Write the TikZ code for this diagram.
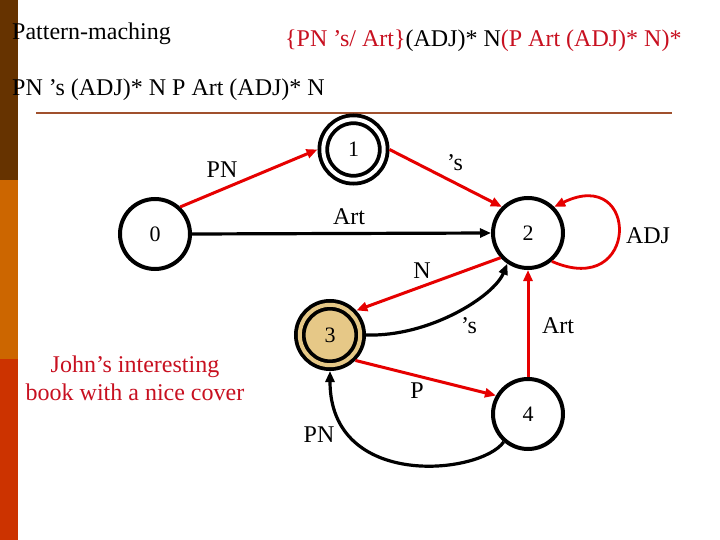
\documentclass[tikz,border=0pt]{standalone}
\usepackage{fontspec}
\setmainfont{Liberation Serif}
\usetikzlibrary{arrows.meta}
\definecolor{barA}{RGB}{102,51,0}
\definecolor{barB}{RGB}{204,102,0}
\definecolor{barC}{RGB}{204,51,0}
\definecolor{rulec}{RGB}{160,80,45}
\definecolor{tred}{RGB}{200,16,32}
\definecolor{ared}{RGB}{230,0,0}
\definecolor{tanf}{RGB}{230,200,135}
\begin{document}
\begin{tikzpicture}[x=1pt,y=-1pt,
  state/.style={circle,draw,line width=4pt,minimum size=70pt,inner sep=0pt,outer sep=2pt,font=\fontsize{22}{24}\selectfont},
  accept/.style={circle,draw,line width=3.8pt,double distance=4pt,minimum size=60.4pt,inner sep=0pt,outer sep=5.8pt,font=\fontsize{22}{24}\selectfont},
  lbl/.style={font=\fontsize{24}{28}\selectfont,inner sep=0pt},
  redarr/.style={color=ared,line width=3pt,-{Triangle[length=11pt,width=9pt]}},
  blkarr/.style={color=black,line width=3.2pt,-{Triangle[length=11pt,width=9pt]}},
]
\useasboundingbox (0,0) rectangle (720,540);
\fill[white] (0,0) rectangle (720,540);
% left bar
\fill[barA] (0,0) rectangle (18,180);
\fill[barB] (0,180) rectangle (18,359);
\fill[barC] (0,359) rectangle (18,540);
% headings
\node[lbl,anchor=base west] (t1) at (12,40) {Pattern-maching};
\node[lbl,anchor=base west] (t2) at (285,47) {\textcolor{tred}{\{PN ’s/ Art\}}(ADJ)* N\textcolor{tred}{(P Art (ADJ)* N)*}};
\node[lbl,anchor=base west] (t3) at (12,96) {PN ’s (ADJ)* N P Art (ADJ)* N};
\draw[rulec,line width=2.2pt] (36,113) -- (672,113);
% states
\node[state] (n0) at (155,234) {0};
\node[accept,double=white] (n1) at (353.5,149.5) {1};
\node[state] (n2) at (528,233) {2};
\node[accept,double=tanf,fill=tanf] (n3) at (330,335) {3};
\node[state] (n4) at (528,414) {4};
% transitions
\draw[redarr] (n0.47) -- (n1.west);
\draw[redarr] (n1.east) -- (n2.135);
\draw[blkarr] (n0.east) -- (n2.west);
\draw[redarr,line width=2.8pt] (n2.-50) .. controls (640,300) and (640,165) .. (n2.45);
\draw[redarr] (n2.222) -- (n3.43);
\draw[blkarr] (n3.east) .. controls (430,337) and (494,296) .. (n2.236);
\draw[redarr] (n4.north) -- (n2.south);
\draw[redarr] (n3.-45) -- (n4.150);
\draw[blkarr] (n4.229) .. controls (480,475) and (330,490) .. (n3.south);
% labels
\node[lbl] (l1) at (222,170) {PN};
\node[lbl] (l2) at (455,163) {’s};
\node[lbl] (l3) at (349,217) {Art};
\node[lbl] (l4) at (648,236) {ADJ};
\node[lbl] (l5) at (422,271) {N};
\node[lbl] (l6) at (469,326) {’s};
\node[lbl] (l7) at (558,326) {Art};
\node[lbl] (l8) at (417,391) {P};
\node[lbl] (l9) at (319,435) {PN};
\node[lbl,text=tred,align=center] (john) at (135,378) {John’s interesting\\book with a nice cover};
\end{tikzpicture}
\end{document}
